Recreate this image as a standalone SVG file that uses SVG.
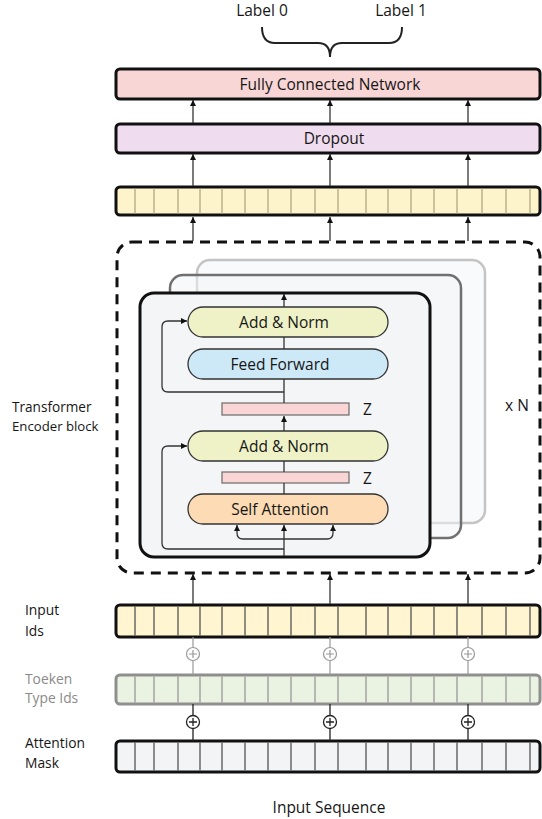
<svg xmlns="http://www.w3.org/2000/svg" width="542" height="819" viewBox="0 0 542 819">
<style>
text{font-family:"Open Sans","Liberation Sans",sans-serif;fill:#161616}
.lbl{font-size:15.5px}
.side{font-size:13.8px}
.ctr{text-anchor:middle}
.bar{stroke:#111;stroke-width:3}
.div{stroke:#555;stroke-width:1.3}
.divl{stroke:#b3a983;stroke-width:1.3}
.divg{stroke:#999;stroke-width:1.3}
.ln{stroke:#333;stroke-width:1.3;fill:none}
.pill{stroke:#333;stroke-width:1.3}
.zb{fill:#f9d5d5;stroke:#6b6b6b;stroke-width:1.2}
</style>
<defs>
<marker id="ah" viewBox="0 0 10 10" refX="10" refY="5" markerWidth="8" markerHeight="6" markerUnits="userSpaceOnUse" orient="auto"><path d="M0,0 L10,5 L0,10 z" fill="#111"/></marker>
</defs>

<g id="labels-top">
<text class="lbl ctr" x="262" y="16">Label 0</text>
<text class="lbl ctr" x="401" y="16">Label 1</text>
<path d="M262,27 Q262,43 275,43 L318,43 Q330,43 330,57 Q330,43 342,43 L389,43 Q402,43 402,27" fill="none" stroke="#222" stroke-width="2"/>
</g>

<g id="fc">
<rect x="116" y="69" width="424" height="30" rx="4" fill="#f8d6d6" class="bar"/>
<text class="lbl ctr" x="330" y="89.5">Fully Connected Network</text>
</g>

<g id="dropout">
<rect x="116" y="124" width="424" height="29" rx="4" fill="#efdcee" class="bar"/>
<text class="lbl ctr" x="334" y="144">Dropout</text>
</g>

<g id="output-embed">
<rect x="116" y="187" width="424" height="28" rx="4" fill="#fdf4cc" class="bar"/>
<path class="divl" d="M135,188.5V213.5M154,188.5V213.5M178,188.5V213.5M200,188.5V213.5M222,188.5V213.5M245,188.5V213.5M268,188.5V213.5M291,188.5V213.5M315,188.5V213.5M338,188.5V213.5M366,188.5V213.5M388,188.5V213.5M411,188.5V213.5M434,188.5V213.5M457,188.5V213.5M482,188.5V213.5M506,188.5V213.5M530,188.5V213.5"/>
</g>

<g id="encoder">
<rect x="117" y="242" width="423" height="331" rx="15" fill="none" stroke="#111" stroke-width="3" stroke-dasharray="10 7"/>
<rect x="197" y="260" width="288" height="263" rx="13" fill="#f4f6f8" fill-opacity="0.5" stroke="#c4c4c4" stroke-width="2.5"/>
<rect x="170" y="275" width="291" height="263" rx="13" fill="#f2f4f6" fill-opacity="0.5" stroke="#707070" stroke-width="2.5"/>
<rect x="140" y="293" width="290" height="264" rx="14" fill="#f4f5f7" stroke="#111" stroke-width="3"/>
<text class="lbl" x="505" y="411">x N</text>
<text x="12" y="412" style="font-size:13.6px">Transformer</text>
<text x="12" y="431" style="font-size:13.2px">Encoder block</text>
</g>

<g id="add-norm-1">
<rect class="pill" x="188" y="307" width="200" height="30" rx="15" fill="#eef2c6"/>
<text class="lbl ctr" x="284" y="327.5">Add &amp; Norm</text>
</g>
<g id="feed-forward">
<rect class="pill" x="188" y="349" width="200" height="30" rx="15" fill="#cde8f6"/>
<text class="lbl ctr" x="280" y="369.5">Feed Forward</text>
</g>
<g id="z-1">
<rect class="zb" x="222" y="403" width="127" height="12"/>
<text class="lbl" x="363" y="415">Z</text>
</g>
<g id="add-norm-2">
<rect class="pill" x="188" y="431" width="200" height="30" rx="15" fill="#eef2c6"/>
<text class="lbl ctr" x="284" y="451.5">Add &amp; Norm</text>
</g>
<g id="z-2">
<rect class="zb" x="222" y="472" width="127" height="11"/>
<text class="lbl" x="363" y="484">Z</text>
</g>
<g id="self-attention">
<rect class="pill" x="188" y="494" width="200" height="30" rx="15" fill="#fddcb5"/>
<text class="lbl ctr" x="280" y="514.5">Self Attention</text>
</g>

<g id="input-ids">
<rect x="116" y="605" width="424" height="32" rx="4" fill="#fff5d0" class="bar"/>
<path class="div" d="M135,606.5V635.5M154,606.5V635.5M178,606.5V635.5M200,606.5V635.5M222,606.5V635.5M245,606.5V635.5M268,606.5V635.5M291,606.5V635.5M315,606.5V635.5M338,606.5V635.5M366,606.5V635.5M388,606.5V635.5M411,606.5V635.5M434,606.5V635.5M457,606.5V635.5M482,606.5V635.5M506,606.5V635.5M530,606.5V635.5"/>
<text class="side" x="25" y="615">Input</text>
<text class="side" x="25" y="636">Ids</text>
</g>

<g id="token-type-ids">
<rect x="116" y="675" width="424" height="29" rx="4" fill="#eaf3e1" stroke="#8f8f8f" stroke-width="3"/>
<path class="divg" d="M135,676.5V702.5M154,676.5V702.5M178,676.5V702.5M200,676.5V702.5M222,676.5V702.5M245,676.5V702.5M268,676.5V702.5M291,676.5V702.5M315,676.5V702.5M338,676.5V702.5M366,676.5V702.5M388,676.5V702.5M411,676.5V702.5M434,676.5V702.5M457,676.5V702.5M482,676.5V702.5M506,676.5V702.5M530,676.5V702.5"/>
<text class="side" x="25" y="684" style="fill:#8a8a8a">Toeken</text>
<text class="side" x="25" y="703" style="fill:#8a8a8a">Type Ids</text>
</g>

<g id="attention-mask">
<rect x="116" y="741" width="424" height="31" rx="4" fill="#f3f4f6" class="bar"/>
<path class="div" d="M135,742.5V770.5M154,742.5V770.5M178,742.5V770.5M200,742.5V770.5M222,742.5V770.5M245,742.5V770.5M268,742.5V770.5M291,742.5V770.5M315,742.5V770.5M338,742.5V770.5M366,742.5V770.5M388,742.5V770.5M411,742.5V770.5M434,742.5V770.5M457,742.5V770.5M482,742.5V770.5M506,742.5V770.5M530,742.5V770.5"/>
<text class="side" x="25" y="748">Attention</text>
<text class="side" x="25" y="767.5">Mask</text>
</g>

<g id="input-sequence">
<text class="lbl ctr" x="329" y="813">Input Sequence</text>
</g>

<g id="connectors">
<g class="ln" marker-end="url(#ah)">
<path d="M193,123V100"/><path d="M330,123V100"/><path d="M468,123V100"/>
<path d="M193,186V154"/><path d="M330,186V154"/><path d="M468,186V154"/>
<path d="M193,241V217"/><path d="M330,241V217"/><path d="M468,241V217"/>
<path d="M193,604V574"/><path d="M330,604V574"/><path d="M468,604V574"/>
<path d="M284,307V294"/>
<path d="M284,392H168Q162,392 162,386V327Q162,321 168,321H187"/>
<path d="M284,431V416"/>
<path d="M284,549H168Q162,549 162,543V452Q162,446 168,446H187"/>
<path d="M284,556V525"/>
<path d="M284,539H243Q237,539 237,533V525"/>
<path d="M284,539H327Q333,539 333,533V525"/>
</g>
<path class="ln" d="M284,349V337M284,403V379M284,472V461M284,494V483"/>
<g fill="#fff" stroke="#999" stroke-width="1.2">
<path d="M193,637V647.5M193,660.5V675M330,637V647.5M330,660.5V675M468,637V647.5M468,660.5V675"/>
<circle cx="193" cy="654" r="6.5"/><circle cx="330" cy="654" r="6.5"/><circle cx="468" cy="654" r="6.5"/>
<path d="M189,654h8M193,650v8M326,654h8M330,650v8M464,654h8M468,650v8"/>
</g>
<g fill="#fff" stroke="#222" stroke-width="1.3">
<path d="M193,704V715.5M193,728.5V741M330,704V715.5M330,728.5V741M468,704V715.5M468,728.5V741"/>
<circle cx="193" cy="722" r="6.5"/><circle cx="330" cy="722" r="6.5"/><circle cx="468" cy="722" r="6.5"/>
<path d="M189,722h8M193,718v8M326,722h8M330,718v8M464,722h8M468,718v8"/>
</g>
</g>
</svg>
